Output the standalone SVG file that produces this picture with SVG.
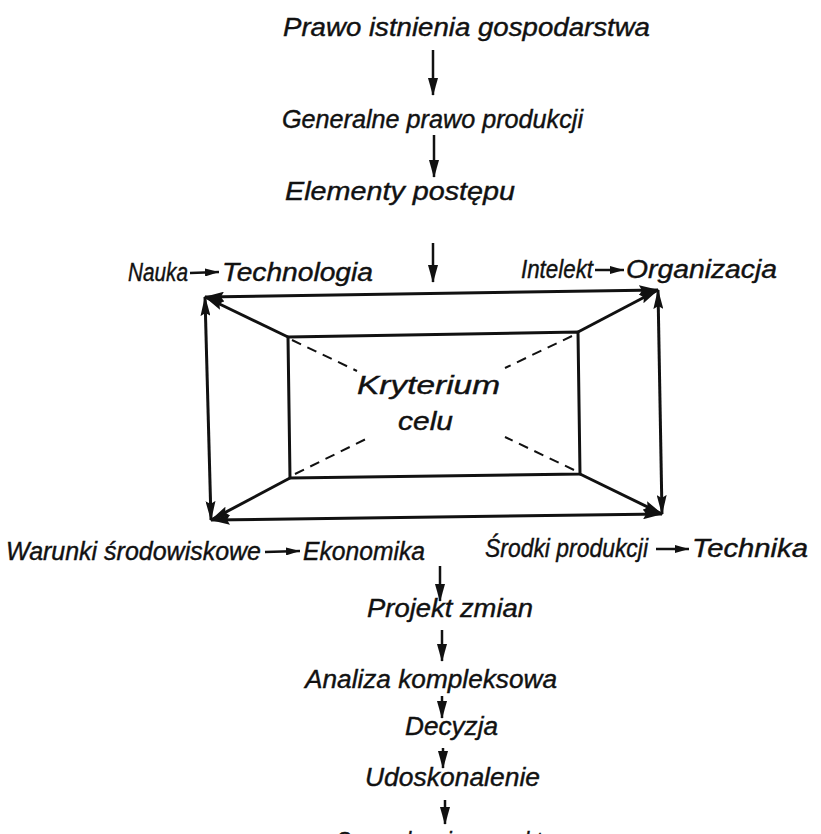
<svg xmlns="http://www.w3.org/2000/svg" width="821" height="834" viewBox="0 0 821 834">
<defs>
<style>
text{font-family:"Liberation Sans","DejaVu Sans",sans-serif;font-style:italic;font-size:25px;fill:#111;stroke:#111;stroke-width:0.4;}
.ln{stroke:#111;stroke-width:3;fill:none;}
.vl{stroke:#111;stroke-width:2.5;fill:none;}
.sm{stroke:#111;stroke-width:2.5;fill:none;}
.ds{stroke:#111;stroke-width:2;fill:none;stroke-dasharray:10 7;}
</style>
<marker id="ah" viewBox="0 0 20 10" refX="19" refY="5" markerWidth="20" markerHeight="10" markerUnits="userSpaceOnUse" orient="auto-start-reverse"><path d="M0,0 L20,5 L0,10 L3,5 z" fill="#111"/></marker>
<marker id="vh" viewBox="0 0 18 10" refX="17" refY="5" markerWidth="18" markerHeight="10" markerUnits="userSpaceOnUse" orient="auto"><path d="M0,0 L18,5 L0,10 z" fill="#111"/></marker>
<marker id="th" viewBox="0 0 14 8" refX="14" refY="4" markerWidth="14" markerHeight="8" markerUnits="userSpaceOnUse" orient="auto"><path d="M0,0 L14,4 L0,8 z" fill="#111"/></marker>
</defs>
<rect width="821" height="834" fill="#fff"/>

<g id="n-prawo"><text x="283" y="36" textLength="367" lengthAdjust="spacingAndGlyphs">Prawo istnienia gospodarstwa</text></g>
<g id="n-generalne"><text x="282" y="128" textLength="301" lengthAdjust="spacingAndGlyphs">Generalne prawo produkcji</text></g>
<g id="n-elementy"><text x="285" y="200" textLength="230" lengthAdjust="spacingAndGlyphs">Elementy postępu</text></g>

<g id="n-nauka">
<text x="128" y="281" textLength="60" lengthAdjust="spacingAndGlyphs">Nauka</text>
<line class="sm" x1="190" y1="273" x2="219" y2="272" marker-end="url(#th)"/>
<text x="222" y="281" textLength="151" lengthAdjust="spacingAndGlyphs">Technologia</text>
</g>
<g id="n-intelekt">
<text x="521" y="278" textLength="72" lengthAdjust="spacingAndGlyphs">Intelekt</text>
<line class="sm" x1="595" y1="270" x2="624" y2="270" marker-end="url(#th)"/>
<text x="626" y="278" textLength="151" lengthAdjust="spacingAndGlyphs">Organizacja</text>
</g>

<g id="n-kryterium">
<polygon points="288,337 578,332 580,474 290,478" fill="none" stroke="#111" stroke-width="3"/>
<text x="357" y="394" textLength="143" lengthAdjust="spacingAndGlyphs">Kryterium</text>
<text x="398" y="430" textLength="55" lengthAdjust="spacingAndGlyphs">celu</text>
</g>

<g id="n-warunki">
<text x="6" y="560" textLength="255" lengthAdjust="spacingAndGlyphs">Warunki środowiskowe</text>
<line class="sm" x1="265" y1="552" x2="300" y2="551" marker-end="url(#th)"/>
<text x="303" y="560" textLength="122" lengthAdjust="spacingAndGlyphs">Ekonomika</text>
</g>
<g id="n-srodki">
<text x="485" y="557" textLength="163" lengthAdjust="spacingAndGlyphs">Środki produkcji</text>
<line class="sm" x1="656" y1="549" x2="689" y2="549" marker-end="url(#th)"/>
<text x="692" y="557" textLength="116" lengthAdjust="spacingAndGlyphs">Technika</text>
</g>

<g id="n-projekt"><text x="367" y="617" textLength="166" lengthAdjust="spacingAndGlyphs">Projekt zmian</text></g>
<g id="n-analiza"><text x="305" y="688" textLength="252" lengthAdjust="spacingAndGlyphs">Analiza kompleksowa</text></g>
<g id="n-decyzja"><text x="405" y="735" textLength="93" lengthAdjust="spacingAndGlyphs">Decyzja</text></g>
<g id="n-udoskonalenie"><text x="365" y="786" textLength="175" lengthAdjust="spacingAndGlyphs">Udoskonalenie</text></g>
<g id="n-last"><text x="336" y="850" textLength="240" lengthAdjust="spacingAndGlyphs">Sprawdzenie w praktyce</text></g>

<g id="connectors">
<line class="vl" x1="433" y1="50" x2="433" y2="95" marker-end="url(#vh)"/>
<line class="vl" x1="434" y1="135" x2="434" y2="177" marker-end="url(#vh)"/>
<line class="vl" x1="433" y1="243" x2="433" y2="282" marker-end="url(#vh)"/>
<line class="vl" x1="440" y1="566" x2="440" y2="601" marker-end="url(#vh)"/>
<line class="vl" x1="442" y1="630" x2="442" y2="661" marker-end="url(#vh)"/>
<line class="vl" x1="442" y1="696" x2="442" y2="718" marker-end="url(#vh)"/>
<line class="vl" x1="443" y1="748" x2="443" y2="768" marker-end="url(#vh)"/>
<line class="vl" x1="445" y1="800" x2="445" y2="824" marker-end="url(#vh)"/>

<line class="ln" x1="205" y1="297" x2="658" y2="290" marker-start="url(#ah)" marker-end="url(#ah)"/>
<line class="ln" x1="211" y1="520" x2="662" y2="514" marker-start="url(#ah)" marker-end="url(#ah)"/>
<line class="ln" x1="205" y1="297" x2="211" y2="520" marker-start="url(#ah)" marker-end="url(#ah)"/>
<line class="ln" x1="658" y1="290" x2="662" y2="514" marker-start="url(#ah)" marker-end="url(#ah)"/>

<line class="ln" x1="288" y1="337" x2="205" y2="297" marker-end="url(#ah)"/>
<line class="ln" x1="578" y1="332" x2="658" y2="290" marker-end="url(#ah)"/>
<line class="ln" x1="290" y1="478" x2="211" y2="520" marker-end="url(#ah)"/>
<line class="ln" x1="580" y1="474" x2="662" y2="514" marker-end="url(#ah)"/>

<line class="ds" x1="292" y1="340" x2="357" y2="371"/>
<line class="ds" x1="572" y1="336" x2="505" y2="368"/>
<line class="ds" x1="295" y1="474" x2="370" y2="437"/>
<line class="ds" x1="574" y1="470" x2="505" y2="437"/>
</g>
</svg>
